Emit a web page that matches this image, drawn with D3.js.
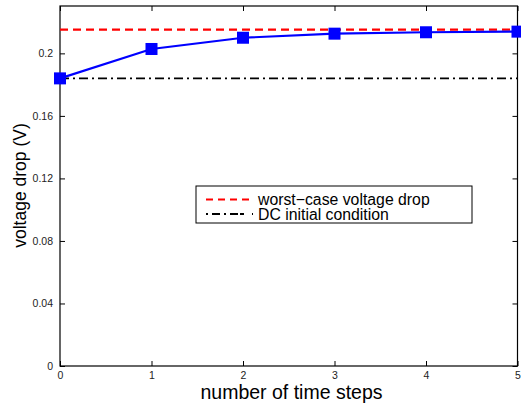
<!DOCTYPE html>
<html>
<head>
<meta charset="utf-8">
<script src="https://cdn.jsdelivr.net/npm/d3@7"></script>
<style>
body { margin: 0; background: #fff; }
text { font-family: "Liberation Sans", Arial, sans-serif; }
</style>
</head>
<body>
<svg id="chart" width="521" height="409"></svg>
<script>
// data
var steps = [0, 1, 2, 3, 4, 5]
var drop = [0.1840, 0.2028, 0.2100, 0.2126, 0.2135, 0.2139]
var worstCase = 0.2152
var dcInit = 0.1840
var xTicks = [0, 1, 2, 3, 4, 5]
var yTicks = [0, 0.04, 0.08, 0.12, 0.16, 0.2]
var legendLabels = ["worst\u2212case voltage drop", "DC initial condition"]

var svg = d3.select("#chart")
// note: "top" is taken by window.top, so plot edges get their own names
var plotL = 60, plotR = 517.5, plotT = 6, plotB = 366

var x = d3.scaleLinear().domain([0, 5]).range([plotL, plotR])
var y = d3.scaleLinear().domain([0, 0.2303]).range([plotB, plotT])

var tickFmt = function(d) { return d === 0 ? "0" : String(+d.toFixed(2)) }

// axes, ticks pointing in
svg.append("g").attr("transform", "translate(0," + plotB + ")")
    .call(d3.axisBottom(x).tickValues(xTicks).tickSizeInner(-5).tickSizeOuter(0).tickPadding(6).tickFormat(d3.format("d")))
svg.append("g").attr("transform", "translate(0," + plotT + ")")
    .call(d3.axisTop(x).tickValues(xTicks).tickSizeInner(-5).tickSizeOuter(0).tickFormat(""))
svg.append("g").attr("transform", "translate(" + plotL + ",0)")
    .call(d3.axisLeft(y).tickValues(yTicks).tickSizeInner(-5).tickSizeOuter(0).tickPadding(7).tickFormat(tickFmt))
svg.append("g").attr("transform", "translate(" + plotR + ",0)")
    .call(d3.axisRight(y).tickValues(yTicks).tickSizeInner(-5).tickSizeOuter(0).tickFormat(""))

svg.selectAll(".domain").remove()
svg.selectAll(".tick line").attr("stroke", "#000").attr("stroke-width", 1)
svg.selectAll(".tick text").attr("font-size", 10.5).attr("fill", "#222")
    .style("font-family", "'Liberation Sans', Arial, sans-serif")

// box
svg.append("rect")
    .attr("x", plotL).attr("y", plotT)
    .attr("width", plotR - plotL).attr("height", plotB - plotT)
    .attr("fill", "none").attr("stroke", "#000").attr("stroke-width", 1.2)

// reference lines
svg.append("line")
    .attr("x1", x(0)).attr("x2", x(5))
    .attr("y1", y(worstCase)).attr("y2", y(worstCase))
    .attr("stroke", "#ff0000").attr("stroke-width", 2.2)
    .attr("stroke-dasharray", "8,5")
svg.append("line")
    .attr("x1", x(0)).attr("x2", x(5))
    .attr("y1", y(dcInit)).attr("y2", y(dcInit))
    .attr("stroke", "#000").attr("stroke-width", 1.8)
    .attr("stroke-dasharray", "9,4,2,4")

// series
var line = d3.line().x(function(d, i) { return x(steps[i]) }).y(function(d) { return y(d) })
svg.append("path").datum(drop)
    .attr("d", line)
    .attr("fill", "none").attr("stroke", "#0000ff").attr("stroke-width", 2.2)

var ms = 12
svg.selectAll(".marker").data(drop).enter().append("rect")
    .attr("class", "marker")
    .attr("x", function(d, i) { return x(steps[i]) - ms / 2 })
    .attr("y", function(d) { return y(d) - ms / 2 })
    .attr("width", ms).attr("height", ms)
    .attr("fill", "#0000ff")

// legend
var lg = svg.append("g")
lg.append("rect")
    .attr("x", 196).attr("y", 186).attr("width", 276).attr("height", 37)
    .attr("fill", "#fff").attr("stroke", "#000").attr("stroke-width", 1)
lg.append("line")
    .attr("x1", 206).attr("x2", 253).attr("y1", 199.5).attr("y2", 199.5)
    .attr("stroke", "#ff0000").attr("stroke-width", 2.2).attr("stroke-dasharray", "7,5")
lg.append("line")
    .attr("x1", 206).attr("x2", 253).attr("y1", 214).attr("y2", 214)
    .attr("stroke", "#000").attr("stroke-width", 1.8).attr("stroke-dasharray", "2,4,8,4,2,4,8")
lg.selectAll(".ltext").data(legendLabels).enter().append("text")
    .attr("class", "ltext")
    .attr("x", 258).attr("y", function(d, i) { return 205 + i * 14.5 })
    .attr("font-size", 15.8)
    .text(function(d) { return d })

// axis titles
svg.append("text")
    .attr("x", 291.5).attr("y", 399)
    .attr("text-anchor", "middle").attr("font-size", 19.5)
    .text("number of time steps")
svg.append("text")
    .attr("transform", "translate(25.5,185.5) rotate(-90)")
    .attr("text-anchor", "middle").attr("font-size", 17.5)
    .text("voltage drop (V)")
</script>
</body>
</html>
